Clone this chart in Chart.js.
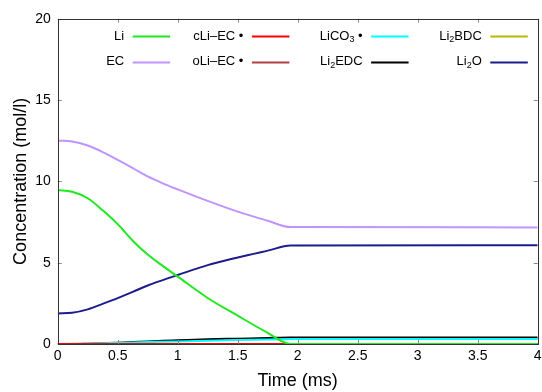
<!DOCTYPE html>
<html>
<head>
<meta charset="utf-8">
<script src="https://cdn.jsdelivr.net/npm/chart.js@4/dist/chart.umd.min.js"></script>
<style>
  html, body { margin: 0; padding: 0; background: #fff; overflow: hidden; }
  #wrap { width: 542px; height: 392px; position: relative; }
</style>
</head>
<body>
<div id="wrap"><canvas id="chart"></canvas></div>
<script>
// time in ms
const times = [0, 0.12, 0.25, 0.375, 0.5, 0.625, 0.75, 0.875, 1.0, 1.25, 1.5, 1.75, 1.94, 4];

const li      = [9.47, 9.36, 8.96, 8.22, 7.37, 6.35, 5.5, 4.8, 4.14, 2.83, 1.74, 0.69, 0, 0];
const ec      = [12.5, 12.45, 12.2, 11.8, 11.32, 10.82, 10.3, 9.88, 9.51, 8.8, 8.14, 7.58, 7.19, 7.17];
const cLiEC   = [0, 0, 0, 0, 0, 0, 0, 0, 0, 0, 0, 0, 0, 0];
const oLiEC   = [0, 0, 0, 0, 0, 0, 0, 0, 0, 0, 0, 0, 0, 0];
const liCO3   = [0, 0.01, 0.03, 0.05, 0.07, 0.09, 0.12, 0.14, 0.16, 0.2, 0.24, 0.27, 0.3, 0.3];
const li2EDC  = [0, 0, 0.02, 0.05, 0.08, 0.12, 0.16, 0.2, 0.23, 0.29, 0.33, 0.37, 0.4, 0.4];
const li2BDC  = [0, 0, 0, 0, 0, 0, 0, 0, 0, 0, 0, 0, 0, 0];
const li2O    = [1.88, 1.92, 2.13, 2.47, 2.82, 3.2, 3.6, 3.93, 4.24, 4.85, 5.32, 5.74, 6.05, 6.07];

const xTicks = [0, 0.5, 1, 1.5, 2, 2.5, 3, 3.5, 4];
const yTicks = [0, 5, 10, 15, 20];

const FONT = '"Liberation Sans", Arial, sans-serif';

function pts(vals) {
    return vals.map((v, i) => ({ x: times[i], y: v }));
}

function ds(label, vals, color) {
    return {
        label: label,
        data: pts(vals),
        borderColor: color,
        backgroundColor: color,
        borderWidth: 2,
        pointRadius: 0,
        cubicInterpolationMode: 'monotone'
    };
}

// label text uses "_" before a subscript digit
const datasets = [
    ds('Li', li, '#1ee81e'),
    ds('EC', ec, '#bf94ff'),
    ds('cLi\u2013EC \u2022', cLiEC, '#ff0000'),
    ds('oLi\u2013EC \u2022', oLiEC, '#b04040'),
    ds('LiCO_3 \u2022', liCO3, '#00ffff'),
    ds('Li_2EDC', li2EDC, '#000000'),
    ds('Li_2BDC', li2BDC, '#b8b800'),
    ds('Li_2O', li2O, '#1c1c8c')
];

function parts(label) {
    const out = [];
    let i = 0;
    while (i < label.length) {
        if (label[i] === '_') {
            out.push({ t: label[i + 1], sub: true });
            i += 2;
        } else {
            let j = i;
            while (j < label.length && label[j] !== '_') j++;
            out.push({ t: label.slice(i, j), sub: false });
            i = j;
        }
    }
    return out;
}

const framePlugin = {
    id: 'frame',
    afterDraw(chart) {
        const c = chart.ctx;
        const a = chart.chartArea;
        const xs = chart.scales.x, ys = chart.scales.y;
        c.save();
        // inward ticks on all four sides
        c.strokeStyle = '#888';
        c.lineWidth = 1;
        c.beginPath();
        xTicks.forEach(v => {
            const px = Math.round(xs.getPixelForValue(v)) + 0.5;
            c.moveTo(px, a.bottom); c.lineTo(px, a.bottom - 4);
            c.moveTo(px, a.top); c.lineTo(px, a.top + 4);
        });
        yTicks.forEach(v => {
            const py = Math.round(ys.getPixelForValue(v)) + 0.5;
            c.moveTo(a.left, py); c.lineTo(a.left + 4, py);
            c.moveTo(a.right, py); c.lineTo(a.right - 4, py);
        });
        c.stroke();
        c.strokeStyle = '#333';
        c.strokeRect(Math.round(a.left) + 0.5, Math.round(a.top) + 0.5,
            Math.round(a.right - a.left), Math.round(a.bottom - a.top));

        // key, gnuplot style: text right aligned, then the line sample
        c.textBaseline = 'middle';
        chart.data.datasets.forEach((d, k) => {
            const col = Math.floor(k / 2), row = k % 2;
            const lx = 132.7 + 119.2 * col;
            const ly = 36 + 25.7 * row;
            const segs = parts(d.label);
            let w = 0;
            segs.forEach(s => {
                c.font = (s.sub ? '9px ' : '13px ') + FONT;
                s.w = c.measureText(s.t).width;
                w += s.w;
            });
            let tx = lx - 8.5 - w;
            c.fillStyle = '#000';
            c.textAlign = 'left';
            segs.forEach(s => {
                c.font = (s.sub ? '9px ' : '13px ') + FONT;
                c.fillText(s.t, tx, s.sub ? ly + 4 : ly);
                tx += s.w;
            });
            c.strokeStyle = d.borderColor;
            c.lineWidth = 2;
            c.beginPath();
            c.moveTo(lx, Math.round(ly) + 0.5);
            c.lineTo(lx + 37.5, Math.round(ly) + 0.5);
            c.stroke();
        });
        c.restore();
    }
};

new Chart(document.getElementById('chart'), {
    type: 'line',
    data: { datasets: datasets },
    plugins: [framePlugin],
    options: {
        responsive: true,
        maintainAspectRatio: false,
        animation: false,
        layout: { padding: { top: 18.7, right: 0, left: 0, bottom: 0 } },
        plugins: {
            legend: { display: false },
            tooltip: { enabled: false }
        },
        scales: {
            x: {
                type: 'linear',
                min: 0,
                max: 4,
                afterBuildTicks: s => { s.ticks = xTicks.map(v => ({ value: v })); },
                afterFit: s => { s.height = 48; s.paddingRight = 4.3; s.paddingLeft = 0; },
                grid: { display: false, drawTicks: false },
                border: { display: false },
                ticks: { color: '#000', font: { family: FONT, size: 14 }, padding: 4, maxRotation: 0,
                    callback: v => String(v) },
                title: { display: true, text: 'Time (ms)', color: '#000', font: { family: FONT, size: 18 }, padding: { top: 0, bottom: 0 } }
            },
            y: {
                min: 0,
                max: 20,
                afterBuildTicks: s => { s.ticks = yTicks.map(v => ({ value: v })); },
                afterFit: s => { s.width = 57.7; },
                grid: { display: false, drawTicks: false },
                border: { display: false },
                ticks: { color: '#000', font: { family: FONT, size: 14 }, padding: 7 },
                title: { display: true, text: 'Concentration (mol/l)', color: '#000', font: { family: FONT, size: 18 }, padding: { top: 10, bottom: 0 } }
            }
        }
    }
});
</script>
</body>
</html>
